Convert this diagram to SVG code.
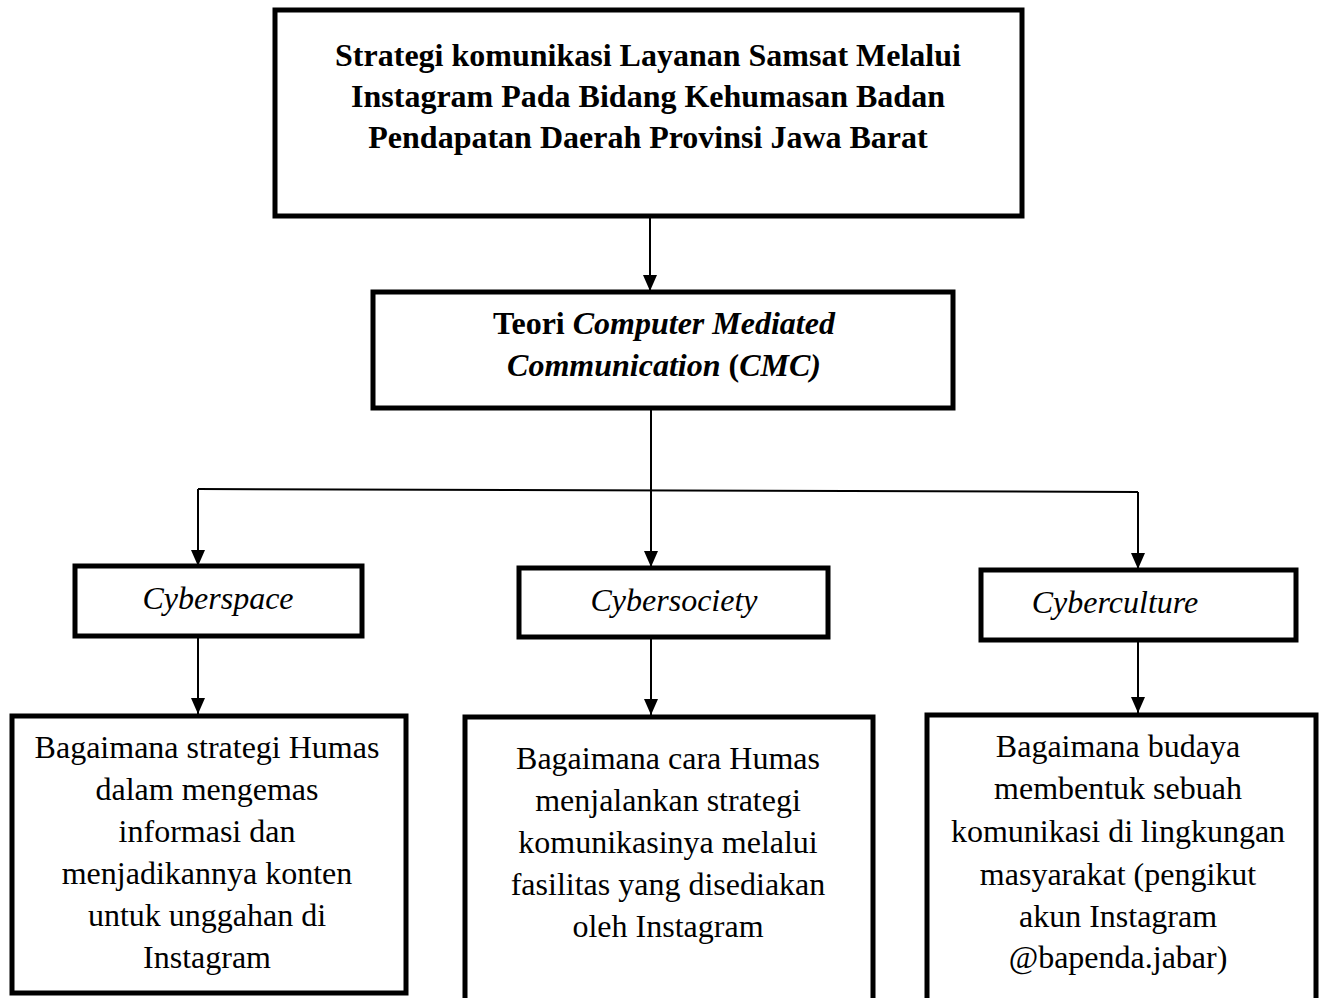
<svg xmlns="http://www.w3.org/2000/svg" width="1321" height="998" viewBox="0 0 1321 998">
<defs>
<style>
.box{fill:#fff;stroke:#000;stroke-width:5}
.ln{fill:none;stroke:#000;stroke-width:2}
.t{font-family:"Liberation Serif","Times New Roman",serif;font-size:32px;fill:#000;text-anchor:middle}
.b{font-weight:bold}
.i{font-style:italic}
</style>
<marker id="ah" markerUnits="userSpaceOnUse" markerWidth="16" markerHeight="14" refX="16" refY="7" orient="auto" viewBox="0 0 16 14">
<path d="M0,0 L16,7 L0,14 z" fill="#000"/>
</marker>
</defs>
<rect width="1321" height="998" fill="#fff"/>
<g id="connectors">
<line class="ln" x1="650" y1="216" x2="650" y2="291" marker-end="url(#ah)"/>
<line class="ln" x1="651" y1="408" x2="651" y2="567" marker-end="url(#ah)"/>
<line class="ln" x1="198" y1="489" x2="1138" y2="492"/>
<line class="ln" x1="198" y1="489" x2="198" y2="566" marker-end="url(#ah)"/>
<line class="ln" x1="1138" y1="492" x2="1138" y2="569" marker-end="url(#ah)"/>
<line class="ln" x1="198" y1="636" x2="198" y2="714" marker-end="url(#ah)"/>
<line class="ln" x1="651" y1="637" x2="651" y2="715" marker-end="url(#ah)"/>
<line class="ln" x1="1138" y1="640" x2="1138" y2="713" marker-end="url(#ah)"/>
</g>
<g id="node-top">
<rect class="box" x="275" y="10" width="747" height="206"/>
<text class="t b" x="648" y="66">Strategi komunikasi Layanan Samsat Melalui</text>
<text class="t b" x="648" y="107">Instagram Pada Bidang Kehumasan Badan</text>
<text class="t b" x="648" y="148">Pendapatan Daerah Provinsi Jawa Barat</text>
</g>
<g id="node-cmc">
<rect class="box" x="373" y="292" width="580" height="116"/>
<text class="t b" x="664" y="334">Teori <tspan class="i">Computer Mediated</tspan></text>
<text class="t b" x="664" y="376"><tspan class="i">Communication</tspan> (<tspan class="i">CMC)</tspan></text>
</g>
<g id="node-cyberspace">
<rect class="box" x="75" y="566" width="287" height="70"/>
<text class="t i" x="218" y="609">Cyberspace</text>
</g>
<g id="node-cybersociety">
<rect class="box" x="519" y="568" width="309" height="69"/>
<text class="t i" x="674" y="611">Cybersociety</text>
</g>
<g id="node-cyberculture">
<rect class="box" x="981" y="570" width="315" height="70"/>
<text class="t i" x="1115" y="613">Cyberculture</text>
</g>
<g id="node-q1">
<rect class="box" x="12" y="716" width="394" height="277"/>
<text class="t" x="207" y="758">Bagaimana strategi Humas</text>
<text class="t" x="207" y="800">dalam mengemas</text>
<text class="t" x="207" y="842">informasi dan</text>
<text class="t" x="207" y="884">menjadikannya konten</text>
<text class="t" x="207" y="926">untuk unggahan di</text>
<text class="t" x="207" y="968">Instagram</text>
</g>
<g id="node-q2">
<rect class="box" x="465" y="717" width="408" height="300"/>
<text class="t" x="668" y="769">Bagaimana cara Humas</text>
<text class="t" x="668" y="811">menjalankan strategi</text>
<text class="t" x="668" y="853">komunikasinya melalui</text>
<text class="t" x="668" y="895">fasilitas yang disediakan</text>
<text class="t" x="668" y="937">oleh Instagram</text>
</g>
<g id="node-q3">
<rect class="box" x="927" y="715" width="389" height="300"/>
<text class="t" x="1118" y="757">Bagaimana budaya</text>
<text class="t" x="1118" y="799">membentuk sebuah</text>
<text class="t" x="1118" y="842">komunikasi di lingkungan</text>
<text class="t" x="1118" y="885">masyarakat (pengikut</text>
<text class="t" x="1118" y="927">akun Instagram</text>
<text class="t" x="1118" y="968">@bapenda.jabar)</text>
</g>
</svg>
